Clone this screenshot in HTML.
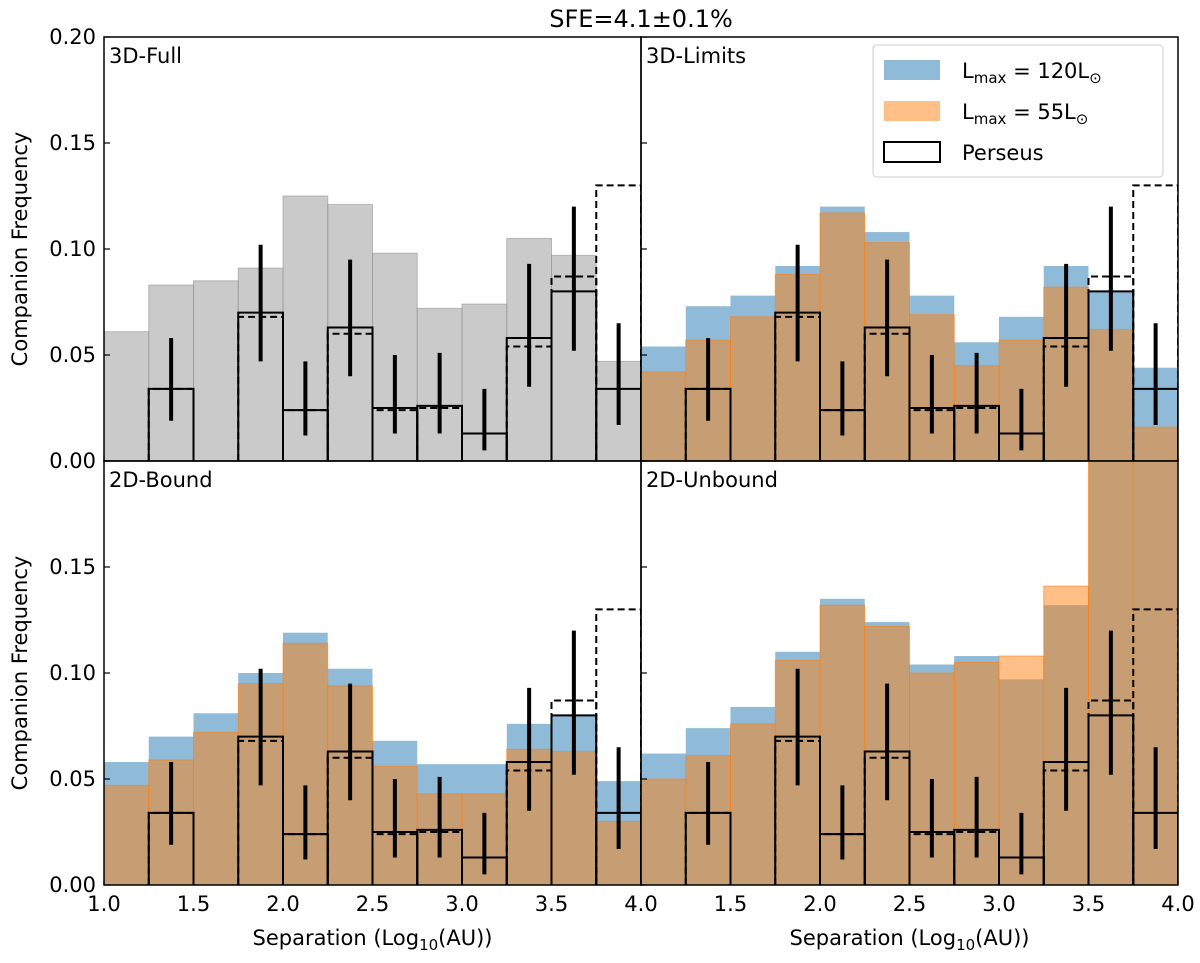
<!DOCTYPE html>
<html><head><meta charset="utf-8"><style>
body{margin:0;background:#fff}
svg{display:block;font-family:"DejaVu Sans","Liberation Sans",sans-serif}
</style></head><body>
<svg id="c" width="1200" height="963"></svg>
<script>
const binEdges=[1.0,1.25,1.5,1.75,2.0,2.25,2.5,2.75,3.0,3.25,3.5,3.75,4.0];
const fullGray=[0.061,0.083,0.085,0.091,0.125,0.121,0.098,0.072,0.074,0.105,0.097,0.047];
const limitsBlue=[0.054,0.073,0.078,0.092,0.120,0.108,0.078,0.056,0.068,0.092,0.080,0.044];
const limitsOrange=[0.042,0.057,0.068,0.088,0.117,0.103,0.069,0.045,0.057,0.082,0.062,0.016];
const boundBlue=[0.058,0.070,0.081,0.100,0.119,0.102,0.068,0.057,0.057,0.076,0.080,0.049];
const boundOrange=[0.047,0.059,0.072,0.095,0.114,0.094,0.056,0.043,0.043,0.064,0.063,0.030];
const unboundBlue=[0.062,0.074,0.084,0.110,0.135,0.124,0.104,0.108,0.097,0.132,0.25,0.25];
const unboundOrange=[0.050,0.061,0.076,0.106,0.132,0.122,0.100,0.105,0.108,0.141,0.25,0.25];
const perseusSolid=[0,0.034,0,0.070,0.024,0.063,0.025,0.026,0.013,0.058,0.080,0.034];
const perseusDashed=[0,0.034,0,0.068,0.024,0.060,0.024,0.025,0.013,0.054,0.087,0.130];
const errLow=[null,0.019,null,0.047,0.012,0.040,0.013,0.013,0.005,0.035,0.052,0.017];
const errHigh=[null,0.058,null,0.102,0.047,0.095,0.050,0.051,0.034,0.093,0.120,0.065];
const yTicks=[0,0.05,0.10,0.15,0.20];
const yTickLabels=["0.00","0.05","0.10","0.15","0.20"];
const xTicks=[1.0,1.5,2.0,2.5,3.0,3.5,4.0];
const xTickLabels=["1.0","1.5","2.0","2.5","3.0","3.5","4.0"];

const NS="http://www.w3.org/2000/svg";
const svg=document.getElementById('c');
function el(tag,attrs,parent){const e=document.createElementNS(NS,tag);for(const k in attrs)e.setAttribute(k,attrs[k]);(parent||svg).appendChild(e);return e;}
const PW=537,PH=424;
const panels=[
 {name:'3d-full',label:'3D-Full',x0:104,y0:37,gray:fullGray},
 {name:'3d-limits',label:'3D-Limits',x0:641,y0:37,blue:limitsBlue,orange:limitsOrange},
 {name:'2d-bound',label:'2D-Bound',x0:104,y0:461,blue:boundBlue,orange:boundOrange},
 {name:'2d-unbound',label:'2D-Unbound',x0:641,y0:461,blue:unboundBlue,orange:unboundOrange}];
panels.forEach((p,pi)=>{
 const g=el('g',{});
 
 
 const cid='clip'+pi;
 const cp=el('clipPath',{id:cid},g);el('rect',{x:p.x0,y:p.y0,width:PW,height:PH},cp);
 const sx=v=>p.x0+(v-1)/3*PW, sy=v=>p.y0+PH-v/0.2*PH;
 const gg=el('g',{'clip-path':`url(#${cid})`},g);
 function bars(arr,fill,stroke,nm){arr.forEach((v,i)=>{
  const r=el('rect',{x:sx(binEdges[i]),y:sy(v),width:sx(binEdges[i+1])-sx(binEdges[i]),height:sy(0)-sy(v),fill:fill,stroke:stroke,'stroke-width':1},gg);
  
  });}
 if(p.gray)bars(p.gray,'rgba(150,150,150,0.5)','rgba(150,150,150,0.6)','gray');
 if(p.blue){bars(p.blue,'rgba(31,119,180,0.5)','none','blue');bars(p.orange,'rgba(255,127,14,0.5)','rgba(255,127,14,0.6)','orange');}
 perseusDashed.forEach((v,i)=>{if(!v)return;const a=sx(binEdges[i]),b=sx(binEdges[i+1]);
  const pl=el('polyline',{points:`${a},${sy(0)} ${a},${sy(v)} ${b},${sy(v)} ${b},${sy(0)}`,fill:'none',stroke:'#000','stroke-width':2,'stroke-dasharray':'7,4'},gg);
  
  });
 perseusSolid.forEach((v,i)=>{if(!v)return;const a=sx(binEdges[i]),b=sx(binEdges[i+1]);
  const pl=el('polyline',{points:`${a},${sy(0)} ${a},${sy(v)} ${b},${sy(v)} ${b},${sy(0)}`,fill:'none',stroke:'#000','stroke-width':2},gg);
  
  });
 errLow.forEach((lo,i)=>{if(lo==null)return;const cx=sx((binEdges[i]+binEdges[i+1])/2);
  const l=el('line',{x1:cx,x2:cx,y1:sy(lo),y2:sy(errHigh[i]),stroke:'#000','stroke-width':4},gg);
  
  });
 el('rect',{x:p.x0,y:p.y0,width:PW,height:PH,fill:'none',stroke:'#000','stroke-width':1.5},g);
 yTicks.forEach((v,i)=>{el('line',{x1:p.x0,x2:p.x0+6,y1:sy(v),y2:sy(v),stroke:'#000','stroke-width':1.2},g);
  if(p.x0<200 && !(p.y0>400 && i===yTicks.length-1)){const t=el('text',{x:p.x0-8,y:sy(v)+7,'text-anchor':'end','font-size':21},g);t.textContent=yTickLabels[i];
   }});
 xTicks.forEach((v,i)=>{el('line',{x1:sx(v),x2:sx(v),y1:p.y0+PH,y2:p.y0+PH-6,stroke:'#000','stroke-width':1.2},g);
  if(p.y0>400 && !(p.x0>400 && i===0)){const t=el('text',{x:sx(v),y:p.y0+PH+26,'text-anchor':'middle','font-size':21},g);t.textContent=xTickLabels[i];
   }});
 const lt=el('text',{x:p.x0+5,y:p.y0+26,'font-size':21},g);lt.textContent=p.label;
 
 if(p.x0<200){const yt=el('text',{x:0,y:0,'font-size':21,'text-anchor':'middle',transform:`translate(27,${p.y0+PH/2}) rotate(-90)`},g);yt.textContent='Companion Frequency';
  }
 if(p.y0>400){const xt=el('text',{x:p.x0+PW/2,y:p.y0+PH+60,'font-size':21,'text-anchor':'middle'},g);xt.innerHTML='Separation (Log<tspan dy="5" font-size="15">10</tspan><tspan dy="-5">(AU))</tspan>';
  }
});
const title=el('text',{x:641,y:27,'font-size':24,'text-anchor':'middle'});title.textContent='SFE=4.1±0.1%';

const lg=el('g',{});


el('rect',{x:873,y:45,width:290,height:132,rx:4,fill:'#fff','fill-opacity':0.8,stroke:'#ccc'},lg);
el('rect',{x:884,y:60,width:56,height:20,fill:'rgba(31,119,180,0.5)'},lg);
el('rect',{x:884,y:101,width:56,height:20,fill:'rgba(255,127,14,0.5)'},lg);
el('rect',{x:884,y:142,width:56,height:20,fill:'none',stroke:'#000','stroke-width':2},lg);
[['L<tspan dy="5" font-size="15">max</tspan><tspan dy="-5"> = 120L</tspan><tspan dy="5" font-size="15">⊙</tspan>',78],['L<tspan dy="5" font-size="15">max</tspan><tspan dy="-5"> = 55L</tspan><tspan dy="5" font-size="15">⊙</tspan>',119],['Perseus',160]].forEach(([s,y])=>{
 const t=el('text',{x:962,y:y,'font-size':21},lg);t.innerHTML=s;
 });
</script>
</body></html>
